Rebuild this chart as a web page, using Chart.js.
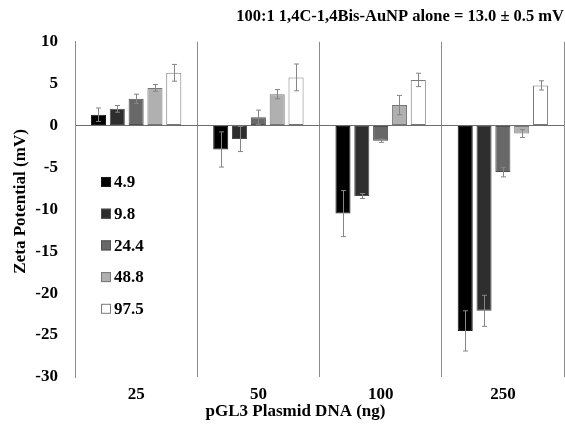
<!DOCTYPE html>
<html>
<head>
<meta charset="utf-8">
<script src="https://cdn.jsdelivr.net/npm/chart.js@4/dist/chart.umd.min.js"></script>
<style>
  html, body { margin: 0; padding: 0; background: #ffffff; }
  #wrap { width: 565px; height: 433px; }
</style>
</head>
<body>
<div id="wrap"><canvas id="c" width="565" height="433"></canvas></div>
<script>
// Plasmid DNA amounts (ng) on the x axis
const categories = ['25', '50', '100', '250'];
// Series labels shown in the legend
const seriesLabels = ['4.9', '9.8', '24.4', '48.8', '97.5'];

// Mean zeta potential (mV) per series, one value per DNA amount
const zeta49  = [1.3, -2.85, -10.5, -24.5];
const zeta98  = [2.0, -1.6, -8.4, -22.1];
const zeta244 = [3.2, 1.0, -1.8, -5.55];
const zeta488 = [4.5, 3.75, 2.45, -0.95];
const zeta975 = [6.3, 5.75, 5.45, 4.8];

// Standard deviations (mV)
const err49  = [0.8, 2.1, 2.75, 2.4];
const err98  = [0.4, 1.5, 0.3, 1.85];
const err244 = [0.55, 0.85, 0.2, 0.57];
const err488 = [0.4, 0.55, 1.15, 0.47];
const err975 = [1.0, 1.6, 0.8, 0.55];

// y axis range and step
const yMin = -30;
const yMax = 10;
const yStep = 5;

const headline = '100:1 1,4C-1,4Bis-AuNP alone = 13.0 \u00B1 0.5 mV';
const xTitle = 'pGL3 Plasmid DNA (ng)';
const yTitle = 'Zeta Potential (mV)';

const fills   = ['#000000', '#2e2e2e', '#686868', '#b0b0b0', '#ffffff'];
const borders = ['#1a1a1a', '#4a4a4a', '#4f4f4f', '#777777', '#7a7a7a'];
const values = [zeta49, zeta98, zeta244, zeta488, zeta975];
const errors = [err49, err98, err244, err488, err975];

const SERIF = '"Liberation Serif", "Times New Roman", serif';

const datasets = seriesLabels.map((lab, i) => ({
  label: lab,
  data: values[i],
  errs: errors[i],
  backgroundColor: fills[i],
  borderColor: borders[i],
  borderWidth: 1,
  borderSkipped: false,
  categoryPercentage: 0.77,
  barPercentage: 0.8
}));

// Draws +/- error whiskers using each bar's own x and the y scale
const errorBars = {
  id: 'errorBars',
  afterDatasetsDraw(chart) {
    const ctx = chart.ctx;
    const y = chart.scales.y;
    ctx.save();
    ctx.strokeStyle = '#858585';
    ctx.lineWidth = 1;
    chart.data.datasets.forEach((ds, di) => {
      const meta = chart.getDatasetMeta(di);
      meta.data.forEach((bar, i) => {
        const v = ds.data[i], e = ds.errs[i];
        const x = Math.round(bar.x) + 0.5;
        const yt = y.getPixelForValue(v + e);
        const yb = y.getPixelForValue(v - e);
        const cap = 2.5;
        ctx.beginPath();
        ctx.moveTo(x, yt); ctx.lineTo(x, yb);
        ctx.moveTo(x - cap, yt); ctx.lineTo(x + cap, yt);
        ctx.moveTo(x - cap, yb); ctx.lineTo(x + cap, yb);
        ctx.stroke();
      });
    });
    ctx.restore();
  }
};

// Legend boxes placed inside the plot, stacked down the left side
const insideLegend = {
  id: 'insideLegend',
  afterDraw(chart) {
    const ctx = chart.ctx;
    const area = chart.chartArea;
    const x0 = area.left + 26;
    const y0 = 182;
    const gap = 31.7;
    ctx.save();
    ctx.font = 'bold 17px ' + SERIF;
    ctx.textBaseline = 'middle';
    ctx.textAlign = 'left';
    chart.data.datasets.forEach((ds, i) => {
      const cy = y0 + i * gap;
      ctx.fillStyle = ds.backgroundColor;
      ctx.fillRect(x0, cy - 5, 10, 10);
      ctx.strokeStyle = ds.borderColor;
      ctx.lineWidth = 1;
      ctx.strokeRect(x0 + 0.5, cy - 4.5, 9, 9);
      ctx.fillStyle = '#000';
      ctx.fillText(ds.label, x0 + 13, cy + 1);
    });
    ctx.restore();
  }
};

// Axis titles, set slightly left of / above the plot centre
const axisTitles = {
  id: 'axisTitles',
  afterDraw(chart) {
    const ctx = chart.ctx;
    const area = chart.chartArea;
    ctx.save();
    ctx.fillStyle = '#000';
    ctx.font = 'bold 17px ' + SERIF;
    ctx.textAlign = 'center';
    ctx.textBaseline = 'middle';
    ctx.fillText(xTitle, (area.left + area.right) / 2 - 24, 412);
    ctx.translate(21, (area.top + area.bottom) / 2 - 8);
    ctx.rotate(-Math.PI / 2);
    ctx.fillText(yTitle, 0, 0);
    ctx.restore();
  }
};

new Chart(document.getElementById('c'), {
  type: 'bar',
  data: { labels: categories, datasets: datasets },
  plugins: [errorBars, insideLegend, axisTitles],
  options: {
    responsive: false,
    animation: false,
    devicePixelRatio: 1,
    layout: { padding: { left: 0, right: 1, top: 0, bottom: 0 } },
    plugins: {
      legend: { display: false },
      tooltip: { enabled: false },
      title: {
        display: true,
        text: headline,
        align: 'end',
        color: '#000',
        font: { family: SERIF, size: 16.5, weight: 'bold' },
        padding: { top: 7, bottom: 15 }
      }
    },
    scales: {
      x: {
        grid: { display: true, offset: true, color: '#8c8c8c', lineWidth: 1, drawTicks: false },
        border: { display: false },
        ticks: { color: '#000', font: { family: SERIF, size: 17, weight: 'bold' }, padding: 7 },
        afterFit(scale) { scale.height = 56; }
      },
      y: {
        min: yMin, max: yMax,
        grid: {
          drawTicks: false,
          color: (c) => (c.tick && c.tick.value === 0) ? '#6e6e6e' : 'rgba(0,0,0,0)',
          lineWidth: 1
        },
        border: { display: true, color: '#8c8c8c' },
        ticks: { stepSize: yStep, color: '#000', font: { family: SERIF, size: 17, weight: 'bold' }, padding: 17 },
        afterFit(scale) { scale.width = 75; }
      }
    }
  }
});
</script>
</body>
</html>
